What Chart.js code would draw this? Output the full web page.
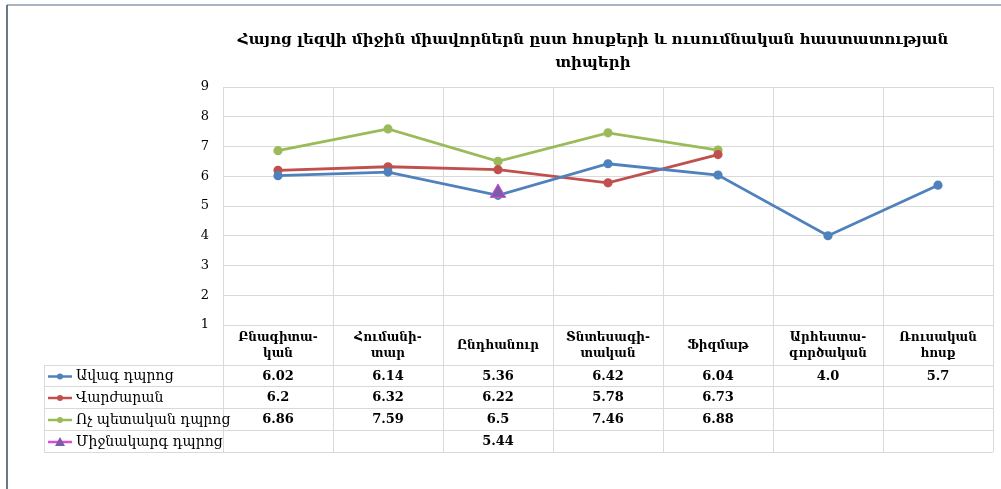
<!DOCTYPE html>
<html>
<head>
<meta charset="utf-8">
<style>
body { margin:0; background:#fff }
canvas { display:block }
</style>
</head>
<body>
<canvas id="chart" width="1001" height="489"></canvas>
<script src="https://cdn.jsdelivr.net/npm/chart.js"></script>
<script>
// ===== DATA =====
const categories = [
  ["Բնագիտա-", "կան"],
  ["Հումանի-", "տար"],
  "Ընդհանուր",
  ["Տնտեսագի-", "տական"],
  "Ֆիզմաթ",
  ["Արհեստա-", "գործական"],
  ["Ռուսական", "հոսք"]
];
const seriesNames = ["Ավագ դպրոց", "Վարժարան", "Ոչ պետական դպրոց", "Միջնակարգ դպրոց"];
const avag = [6.02, 6.14, 5.36, 6.42, 6.04, 4.0, 5.7];
const varzharan = [6.2, 6.32, 6.22, 5.78, 6.73, null, null];
const voch = [6.86, 7.59, 6.5, 7.46, 6.88, null, null];
const mijnakarg = [null, null, 5.44, null, null, null, null];
const yTicks = [1, 2, 3, 4, 5, 6, 7, 8, 9];
const titleLines = ["Հայոց լեզվի միջին միավորներն ըստ հոսքերի և ուսումնական հաստատության", "տիպերի"];

const FONT = "'DejaVu Serif', serif";
const GRID = "#d9d9d9";

function fmt(v) {
  return Number.isInteger(v) ? v.toFixed(1) : String(v);
}

// title, outer frame and the data table under the axis
const tablePlugin = {
  id: "tablePlugin",
  afterDraw(chart) {
    const ctx = chart.ctx;
    const x = chart.scales.x;
    const area = chart.chartArea;
    const rows = [365, 386, 408, 430, 452];
    const left = 44;

    ctx.save();
    // frame
    ctx.strokeStyle = "#8d9ab0";
    ctx.lineWidth = 1.5;
    ctx.beginPath(); ctx.moveTo(7, 5); ctx.lineTo(1001, 5); ctx.stroke();
    ctx.strokeStyle = "#3e4c61";
    ctx.beginPath(); ctx.moveTo(7, 5); ctx.lineTo(7, 489); ctx.stroke();

    // title
    ctx.fillStyle = "#000";
    ctx.font = "bold 15px " + FONT;
    ctx.textAlign = "center";
    ctx.textBaseline = "middle";
    ctx.fillText(titleLines[0], 593, 40);
    ctx.fillText(titleLines[1], 593, 63);

    // table grid
    ctx.strokeStyle = GRID;
    ctx.lineWidth = 1;
    const step = (x.getPixelForValue(1) - x.getPixelForValue(0));
    for (let i = 0; i <= categories.length; i++) {
      const px = Math.round(x.getPixelForValue(i) - step / 2) + 0.5;
      ctx.beginPath(); ctx.moveTo(px, area.bottom); ctx.lineTo(px, rows[rows.length - 1]); ctx.stroke();
    }
    rows.forEach(r => {
      ctx.beginPath(); ctx.moveTo(left, r + 0.5); ctx.lineTo(area.right, r + 0.5); ctx.stroke();
    });
    ctx.beginPath(); ctx.moveTo(left + 0.5, rows[0]); ctx.lineTo(left + 0.5, rows[rows.length - 1]); ctx.stroke();

    // rows
    chart.data.datasets.forEach((ds, i) => {
      const cy = (rows[i] + rows[i + 1]) / 2 + 1;
      // legend key
      ctx.strokeStyle = ds.borderColor;
      ctx.lineWidth = 2.5;
      ctx.beginPath(); ctx.moveTo(48, cy); ctx.lineTo(72, cy); ctx.stroke();
      ctx.fillStyle = ds.pointBackgroundColor;
      if (ds.pointStyle === "triangle") {
        ctx.beginPath();
        ctx.moveTo(60, cy - 5); ctx.lineTo(65, cy + 4); ctx.lineTo(55, cy + 4);
        ctx.closePath(); ctx.fill();
      } else {
        ctx.beginPath(); ctx.arc(60, cy, 3, 0, Math.PI * 2); ctx.fill();
      }
      ctx.fillStyle = "#000";
      ctx.font = "14px " + FONT;
      ctx.textAlign = "left";
      ctx.fillText(ds.label, 76, cy);

      ctx.font = "bold 13px " + FONT;
      ctx.textAlign = "center";
      ds.data.forEach((v, j) => {
        if (v === null) return;
        ctx.fillText(fmt(v), x.getPixelForValue(j), cy);
      });
    });
    ctx.restore();
  }
};

function line(label, data, color, extra) {
  return Object.assign({
    label: label,
    data: data,
    borderColor: color,
    backgroundColor: color,
    pointBackgroundColor: color,
    pointBorderColor: color,
    borderWidth: 2.8,
    pointRadius: 3.2,
    pointHoverRadius: 3.2,
    tension: 0,
    spanGaps: false
  }, extra || {});
}

new Chart(document.getElementById("chart"), {
  type: "line",
  data: {
    labels: categories,
    datasets: [
      line(seriesNames[0], avag, "#4f81bd"),
      line(seriesNames[1], varzharan, "#c0504d"),
      line(seriesNames[2], voch, "#9bbb59"),
      line(seriesNames[3], mijnakarg, "#d64fd6", {
        order: -1,
        pointStyle: "triangle",
        pointRadius: 9,
        pointHoverRadius: 9,
        pointBackgroundColor: "#7f5aa8",
        pointBorderColor: "#d64fd6",
        pointBorderWidth: 1
      })
    ]
  },
  options: {
    responsive: false,
    animation: false,
    events: [],
    layout: { autoPadding: false, padding: { top: 87, right: 8, left: 0, bottom: 0 } },
    plugins: {
      legend: { display: false },
      tooltip: { enabled: false }
    },
    scales: {
      x: {
        offset: true,
        grid: { offset: true, color: GRID, drawTicks: false },
        border: { color: GRID },
        ticks: {
          color: "#000",
          padding: 13,
          maxRotation: 0,
          autoSkip: false,
          crossAlign: "center",
          font: { family: FONT, size: 12, weight: "bold", lineHeight: 1.33 }
        },
        afterFit(s) { s.height = 164; }
      },
      y: {
        min: 1,
        max: 9,
        afterBuildTicks(s) { s.ticks = yTicks.map(v => ({ value: v })); },
        grid: { color: GRID, drawTicks: false },
        border: { color: GRID },
        ticks: {
          color: "#000",
          padding: 14,
          font: { family: FONT, size: 13 }
        },
        afterFit(s) { s.width = 223; }
      }
    }
  },
  plugins: [tablePlugin]
});
</script>
</body>
</html>
